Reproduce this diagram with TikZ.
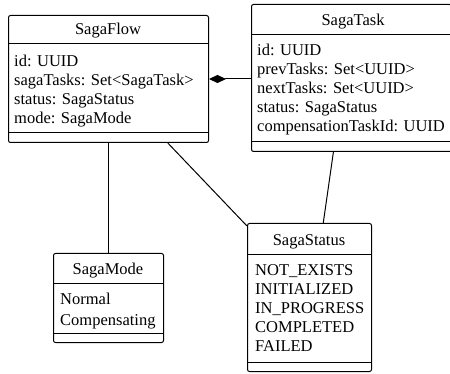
\documentclass[tikz,border=0pt]{standalone}
\usepackage{fontspec}
\setmainfont{Liberation Serif}
\newfontfamily\umlfont{Liberation Serif}
\usetikzlibrary{arrows.meta,calc}
\begin{document}
\begin{tikzpicture}[x=1pt,y=-1pt,
  box/.style={draw,line width=1pt,rounded corners=2pt,anchor=north west,inner sep=0pt},
  sep/.style={line width=1pt},
  conn/.style={line width=1pt},
  txt/.style={anchor=base west,inner sep=0pt,font=\umlfont\fontsize{16.5}{19}\selectfont},
  ttl/.style={anchor=base,inner sep=0pt,font=\umlfont\fontsize{16.5}{19}\selectfont}]
\useasboundingbox (0,0) rectangle (450,374);
% SagaFlow
\node[box,minimum width=200pt,minimum height=127pt] (flow) at (8,15) {};
\draw[sep] (8,44) -- (208,44);
\draw[sep] (8,133) -- (208,133);
\node[ttl] (flowt) at (108,35) {SagaFlow};
\node[txt] (f1) at (14,67) {id: UUID};
\node[txt] (f2) at (14,86) {sagaTasks: Set<SagaTask>};
\node[txt] (f3) at (14,105) {status: SagaStatus};
\node[txt] (f4) at (14,124) {mode: SagaMode};
% SagaTask
\node[box,minimum width=200pt,minimum height=147pt] (task) at (251,4) {};
\draw[sep] (251,35) -- (451,35);
\draw[sep] (251,142) -- (451,142);
\node[ttl] (taskt) at (353,26) {SagaTask};
\node[txt] (t1) at (257,56) {id: UUID};
\node[txt] (t2) at (257,75) {prevTasks: Set<UUID>};
\node[txt] (t3) at (257,94) {nextTasks: Set<UUID>};
\node[txt] (t4) at (257,113) {status: SagaStatus};
\node[txt] (t5) at (257,132) {compensationTaskId: UUID};
% SagaStatus
\node[box,minimum width=124pt,minimum height=148pt] (status) at (247,223) {};
\draw[sep] (247,255) -- (371,255);
\draw[sep] (247,362) -- (371,362);
\node[ttl] (statust) at (309,246) {SagaStatus};
\node[txt] (s1) at (255,275.5) {NOT\_EXISTS};
\node[txt] (s2) at (255,294.5) {INITIALIZED};
\node[txt] (s3) at (255,313.5) {IN\_PROGRESS};
\node[txt] (s4) at (255,332.5) {COMPLETED};
\node[txt] (s5) at (255,351.5) {FAILED};
% SagaMode
\node[box,minimum width=110pt,minimum height=89pt] (mode) at (53,253) {};
\draw[sep] (53,284) -- (163,284);
\draw[sep] (53,333) -- (163,333);
\node[ttl] (modet) at (108,275) {SagaMode};
\node[txt] (m1) at (60,305) {Normal};
\node[txt] (m2) at (60,325) {Compensating};
% connectors
\draw[conn] (mode.north) -- (mode.north |- flow.south);
\draw[conn] ($(flow.south west)!0.795!(flow.south east)$) -- ($(status.north west)+(0,3)$);
\draw[conn] ($(task.south west)!0.41!(task.south east)$) -- ($(status.north west)!0.61!(status.north east)$);
\draw[conn,{Diamond[length=17pt,width=8pt]}-] (flow.east) -- (flow.east -| task.west);
\end{tikzpicture}
\end{document}
